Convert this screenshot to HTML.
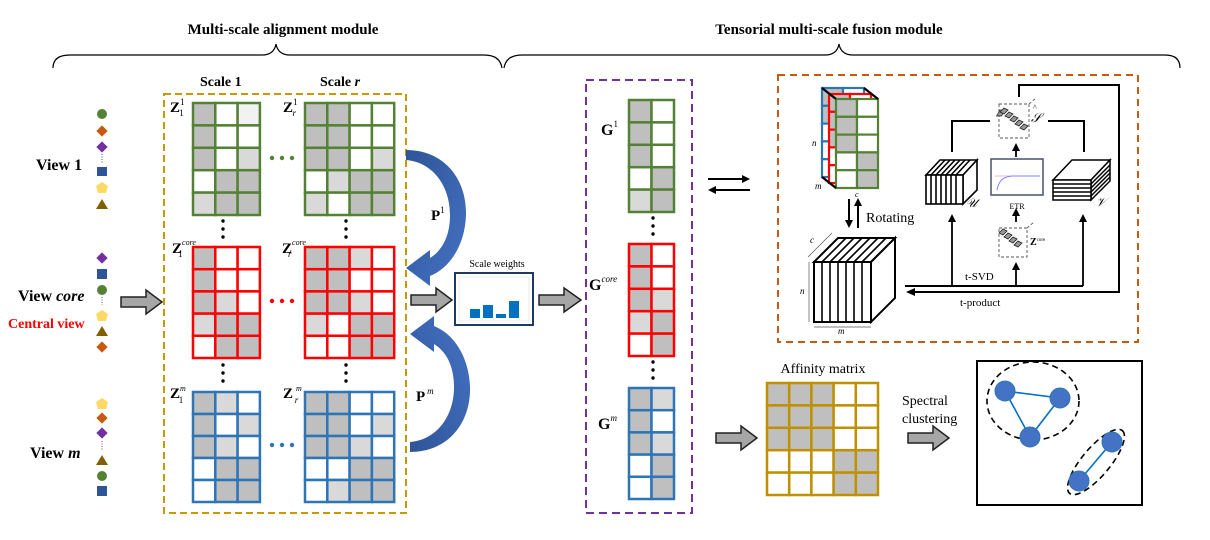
<!DOCTYPE html>
<html><head><meta charset="utf-8"><style>
html,body{margin:0;padding:0;background:#fff;}
svg{display:block;}
text{font-family:"Liberation Serif",serif;}
.g{fill:#bfbfbf}.l{fill:#d9d9d9}.w{fill:#fff}
</style></head><body>
<svg width="1210" height="540" viewBox="0 0 1210 540" xmlns="http://www.w3.org/2000/svg">
<defs>
<linearGradient id="bl" x1="0" y1="0" x2="1" y2="1"><stop offset="0" stop-color="#2f5597"/><stop offset="1" stop-color="#4472c4"/></linearGradient>
<marker id="ah" markerWidth="8" markerHeight="8" refX="6" refY="4" orient="auto" markerUnits="userSpaceOnUse"><path d="M0,0 L8,4 L0,8 Z" fill="#000"/></marker>
</defs>

<!-- titles & braces -->
<text x="283" y="34" font-size="15" font-weight="bold" text-anchor="middle">Multi-scale alignment module</text>
<text x="829" y="34" font-size="15" font-weight="bold" text-anchor="middle">Tensorial multi-scale fusion module</text>
<path d="M53,68 Q53,55 70,55 L262,55 Q274,55 276,44 Q278,55 290,55 L484,55 Q500,55 502,68" fill="none" stroke="#000" stroke-width="1.2"/>
<path d="M504,68 Q506,55 522,55 L825,55 Q837,55 839,44 Q841,55 853,55 L1165,55 Q1180,55 1180,68" fill="none" stroke="#000" stroke-width="1.2"/>

<!-- view labels -->
<text x="36" y="170" font-size="16" font-weight="bold">View 1</text>
<text x="18" y="301" font-size="16" font-weight="bold">View <tspan font-style="italic">core</tspan></text>
<text x="8" y="328" font-size="14" font-weight="bold" fill="#ff0000">Central view</text>
<text x="30" y="458" font-size="16" font-weight="bold">View <tspan font-style="italic">m</tspan></text>

<!-- symbols view1 -->
<g>
<circle cx="102" cy="114" r="5" fill="#548235"/>
<rect x="98" y="127" width="8" height="8" fill="#c55a11" transform="rotate(45 102 131)"/>
<rect x="98" y="143" width="8" height="8" fill="#7030a0" transform="rotate(45 102 147)"/>
<line x1="102" y1="154" x2="102" y2="164" stroke="#555" stroke-dasharray="1,1.5"/>
<rect x="97" y="167" width="10" height="9" fill="#2f5597"/>
<polygon points="102,182 108,186 106,193 98,193 96,186" fill="#ffd966"/>
<polygon points="102,199 108,209 96,209" fill="#7f6000"/>
</g>
<g>
<rect x="98" y="254" width="8" height="8" fill="#7030a0" transform="rotate(45 102 258)"/>
<rect x="97" y="269" width="10" height="10" fill="#2f5597"/>
<circle cx="102" cy="290" r="5" fill="#548235"/>
<line x1="102" y1="297" x2="102" y2="305" stroke="#555" stroke-dasharray="1,1.5"/>
<polygon points="102,310 108,314 106,321 98,321 96,314" fill="#ffd966"/>
<polygon points="102,326 108,336 96,336" fill="#7f6000"/>
<rect x="98" y="343" width="8" height="8" fill="#c55a11" transform="rotate(45 102 347)"/>
</g>
<g>
<polygon points="102,398 108,402 106,409 98,409 96,402" fill="#ffd966"/>
<rect x="98" y="414" width="8" height="8" fill="#c55a11" transform="rotate(45 102 418)"/>
<rect x="98" y="429" width="8" height="8" fill="#7030a0" transform="rotate(45 102 433)"/>
<line x1="102" y1="441" x2="102" y2="451" stroke="#555" stroke-dasharray="1,1.5"/>
<polygon points="102,455 108,465 96,465" fill="#7f6000"/>
<circle cx="102" cy="476" r="5" fill="#548235"/>
<rect x="97" y="486" width="10" height="10" fill="#2f5597"/>
</g>

<!-- gray arrows -->
<g fill="#a6a6a6" stroke="#222" stroke-width="1.5">
<path d="M121,297 L146,297 L146,290 L162,302 L146,314 L146,307 L121,307 Z"/>
<path d="M411,295 L436,295 L436,288 L452,300 L436,312 L436,305 L411,305 Z"/>
<path d="M539,295 L564,295 L564,288 L581,300 L564,312 L564,305 L539,305 Z"/>
<path d="M716,433 L741,433 L741,426 L757,438 L741,450 L741,443 L716,443 Z"/>
<path d="M908,433 L933,433 L933,426 L949,438 L933,450 L933,443 L908,443 Z"/>
</g>

<!-- yellow dashed box -->
<rect x="164" y="94" width="242" height="419" fill="none" stroke="#c99a00" stroke-width="2" stroke-dasharray="7,4"/>
<text x="200" y="86" font-size="14" font-weight="bold">Scale 1</text>
<text x="320" y="86" font-size="14" font-weight="bold">Scale <tspan font-style="italic">r</tspan></text>

<!-- Z labels -->
<g font-size="15" font-weight="bold">
<text x="170" y="112">Z<tspan font-size="9" font-weight="normal" dy="-7">1</tspan><tspan font-size="9" font-weight="normal" dx="-5" dy="11">1</tspan></text>
<text x="283" y="112">Z<tspan font-size="9" font-weight="normal" dy="-7">1</tspan><tspan font-size="9" font-weight="normal" font-style="italic" dx="-5" dy="11">r</tspan></text>
<text x="172" y="253">Z<tspan font-size="8" font-weight="normal" font-style="italic" dy="-8">core</tspan><tspan font-size="9" font-weight="normal" dx="-18" dy="12">1</tspan></text>
<text x="282" y="253">Z<tspan font-size="8" font-weight="normal" font-style="italic" dy="-8">core</tspan><tspan font-size="9" font-weight="normal" font-style="italic" dx="-18" dy="12">r</tspan></text>
<text x="170" y="398">Z<tspan font-size="8" font-weight="normal" font-style="italic" dy="-7">m</tspan><tspan font-size="9" font-weight="normal" dx="-7" dy="12">1</tspan></text>
<text x="283" y="398">Z<tspan font-size="8" font-weight="normal" font-style="italic" dx="3" dy="-7">m</tspan><tspan font-size="9" font-weight="normal" font-style="italic" dx="-7" dy="12">r</tspan></text>
</g>

<!-- Z1^1 -->
<g stroke="#548235" stroke-width="2.5" transform="translate(193,103)">
<rect class="g" x="0" y="0" width="22.3" height="22.4"/><rect class="w" x="22.3" y="0" width="22.3" height="22.4"/><rect fill="#f2f2f2" x="44.6" y="0" width="22.3" height="22.4"/>
<rect class="g" x="0" y="22.4" width="22.3" height="22.4"/><rect class="w" x="22.3" y="22.4" width="22.3" height="22.4"/><rect class="w" x="44.6" y="22.4" width="22.3" height="22.4"/>
<rect class="g" x="0" y="44.8" width="22.3" height="22.4"/><rect class="w" x="22.3" y="44.8" width="22.3" height="22.4"/><rect class="l" x="44.6" y="44.8" width="22.3" height="22.4"/>
<rect class="w" x="0" y="67.2" width="22.3" height="22.4"/><rect class="g" x="22.3" y="67.2" width="22.3" height="22.4"/><rect class="g" x="44.6" y="67.2" width="22.3" height="22.4"/>
<rect class="l" x="0" y="89.6" width="22.3" height="22.4"/><rect class="g" x="22.3" y="89.6" width="22.3" height="22.4"/><rect class="g" x="44.6" y="89.6" width="22.3" height="22.4"/>
</g>
<!-- Zr^1 -->
<g stroke="#548235" stroke-width="2.5" transform="translate(305,103)">
<rect class="g" x="0" y="0" width="22.3" height="22.4"/><rect class="g" x="22.3" y="0" width="22.3" height="22.4"/><rect class="w" x="44.6" y="0" width="22.3" height="22.4"/><rect class="w" x="66.9" y="0" width="22.3" height="22.4"/>
<rect class="g" x="0" y="22.4" width="22.3" height="22.4"/><rect class="g" x="22.3" y="22.4" width="22.3" height="22.4"/><rect class="w" x="44.6" y="22.4" width="22.3" height="22.4"/><rect class="w" x="66.9" y="22.4" width="22.3" height="22.4"/>
<rect class="g" x="0" y="44.8" width="22.3" height="22.4"/><rect class="g" x="22.3" y="44.8" width="22.3" height="22.4"/><rect class="w" x="44.6" y="44.8" width="22.3" height="22.4"/><rect class="l" x="66.9" y="44.8" width="22.3" height="22.4"/>
<rect class="w" x="0" y="67.2" width="22.3" height="22.4"/><rect class="l" x="22.3" y="67.2" width="22.3" height="22.4"/><rect class="g" x="44.6" y="67.2" width="22.3" height="22.4"/><rect class="g" x="66.9" y="67.2" width="22.3" height="22.4"/>
<rect class="l" x="0" y="89.6" width="22.3" height="22.4"/><rect class="w" x="22.3" y="89.6" width="22.3" height="22.4"/><rect class="g" x="44.6" y="89.6" width="22.3" height="22.4"/><rect class="g" x="66.9" y="89.6" width="22.3" height="22.4"/>
</g>
<!-- Z1^core -->
<g stroke="#ff0000" stroke-width="2.5" transform="translate(193,247)">
<rect class="g" x="0" y="0" width="22.3" height="22.2"/><rect class="w" x="22.3" y="0" width="22.3" height="22.2"/><rect class="w" x="44.6" y="0" width="22.3" height="22.2"/>
<rect class="g" x="0" y="22.2" width="22.3" height="22.2"/><rect class="w" x="22.3" y="22.2" width="22.3" height="22.2"/><rect class="w" x="44.6" y="22.2" width="22.3" height="22.2"/>
<rect class="g" x="0" y="44.4" width="22.3" height="22.2"/><rect class="l" x="22.3" y="44.4" width="22.3" height="22.2"/><rect class="w" x="44.6" y="44.4" width="22.3" height="22.2"/>
<rect class="l" x="0" y="66.6" width="22.3" height="22.2"/><rect class="g" x="22.3" y="66.6" width="22.3" height="22.2"/><rect class="g" x="44.6" y="66.6" width="22.3" height="22.2"/>
<rect class="w" x="0" y="88.8" width="22.3" height="22.2"/><rect class="g" x="22.3" y="88.8" width="22.3" height="22.2"/><rect class="g" x="44.6" y="88.8" width="22.3" height="22.2"/>
</g>
<!-- Zr^core -->
<g stroke="#ff0000" stroke-width="2.5" transform="translate(305,247)">
<rect class="g" x="0" y="0" width="22.3" height="22.2"/><rect class="g" x="22.3" y="0" width="22.3" height="22.2"/><rect class="l" x="44.6" y="0" width="22.3" height="22.2"/><rect class="w" x="66.9" y="0" width="22.3" height="22.2"/>
<rect class="g" x="0" y="22.2" width="22.3" height="22.2"/><rect class="g" x="22.3" y="22.2" width="22.3" height="22.2"/><rect class="w" x="44.6" y="22.2" width="22.3" height="22.2"/><rect class="w" x="66.9" y="22.2" width="22.3" height="22.2"/>
<rect class="g" x="0" y="44.4" width="22.3" height="22.2"/><rect class="g" x="22.3" y="44.4" width="22.3" height="22.2"/><rect class="l" x="44.6" y="44.4" width="22.3" height="22.2"/><rect class="w" x="66.9" y="44.4" width="22.3" height="22.2"/>
<rect class="l" x="0" y="66.6" width="22.3" height="22.2"/><rect class="w" x="22.3" y="66.6" width="22.3" height="22.2"/><rect class="g" x="44.6" y="66.6" width="22.3" height="22.2"/><rect class="g" x="66.9" y="66.6" width="22.3" height="22.2"/>
<rect class="w" x="0" y="88.8" width="22.3" height="22.2"/><rect class="w" x="22.3" y="88.8" width="22.3" height="22.2"/><rect class="g" x="44.6" y="88.8" width="22.3" height="22.2"/><rect class="g" x="66.9" y="88.8" width="22.3" height="22.2"/>
</g>
<!-- Z1^m -->
<g stroke="#2e75b6" stroke-width="2.5" transform="translate(193,392)">
<rect class="g" x="0" y="0" width="22.3" height="22"/><rect class="l" x="22.3" y="0" width="22.3" height="22"/><rect class="w" x="44.6" y="0" width="22.3" height="22"/>
<rect class="g" x="0" y="22" width="22.3" height="22"/><rect class="w" x="22.3" y="22" width="22.3" height="22"/><rect class="l" x="44.6" y="22" width="22.3" height="22"/>
<rect class="g" x="0" y="44" width="22.3" height="22"/><rect class="l" x="22.3" y="44" width="22.3" height="22"/><rect class="w" x="44.6" y="44" width="22.3" height="22"/>
<rect class="w" x="0" y="66" width="22.3" height="22"/><rect class="g" x="22.3" y="66" width="22.3" height="22"/><rect class="g" x="44.6" y="66" width="22.3" height="22"/>
<rect class="w" x="0" y="88" width="22.3" height="22"/><rect class="g" x="22.3" y="88" width="22.3" height="22"/><rect class="g" x="44.6" y="88" width="22.3" height="22"/>
</g>
<!-- Zr^m -->
<g stroke="#2e75b6" stroke-width="2.5" transform="translate(305,392)">
<rect class="g" x="0" y="0" width="22.3" height="22"/><rect class="g" x="22.3" y="0" width="22.3" height="22"/><rect class="w" x="44.6" y="0" width="22.3" height="22"/><rect class="w" x="66.9" y="0" width="22.3" height="22"/>
<rect class="g" x="0" y="22" width="22.3" height="22"/><rect class="g" x="22.3" y="22" width="22.3" height="22"/><rect class="w" x="44.6" y="22" width="22.3" height="22"/><rect class="l" x="66.9" y="22" width="22.3" height="22"/>
<rect class="g" x="0" y="44" width="22.3" height="22"/><rect class="g" x="22.3" y="44" width="22.3" height="22"/><rect class="l" x="44.6" y="44" width="22.3" height="22"/><rect class="w" x="66.9" y="44" width="22.3" height="22"/>
<rect class="w" x="0" y="66" width="22.3" height="22"/><rect class="w" x="22.3" y="66" width="22.3" height="22"/><rect class="g" x="44.6" y="66" width="22.3" height="22"/><rect class="g" x="66.9" y="66" width="22.3" height="22"/>
<rect class="w" x="0" y="88" width="22.3" height="22"/><rect class="l" x="22.3" y="88" width="22.3" height="22"/><rect class="g" x="44.6" y="88" width="22.3" height="22"/><rect class="g" x="66.9" y="88" width="22.3" height="22"/>
</g>

<!-- dots -->
<g fill="#548235"><circle cx="272" cy="158" r="2.2"/><circle cx="282" cy="158" r="2.2"/><circle cx="292" cy="158" r="2.2"/></g>
<g fill="#ff0000"><circle cx="272" cy="301" r="2.2"/><circle cx="282" cy="301" r="2.2"/><circle cx="292" cy="301" r="2.2"/></g>
<g fill="#2e75b6"><circle cx="272" cy="445" r="2.2"/><circle cx="282" cy="445" r="2.2"/><circle cx="292" cy="445" r="2.2"/></g>
<g fill="#000">
<circle cx="223" cy="221" r="1.7"/><circle cx="223" cy="229" r="1.7"/><circle cx="223" cy="237" r="1.7"/>
<circle cx="346" cy="221" r="1.7"/><circle cx="346" cy="229" r="1.7"/><circle cx="346" cy="237" r="1.7"/>
<circle cx="223" cy="365" r="1.7"/><circle cx="223" cy="373" r="1.7"/><circle cx="223" cy="381" r="1.7"/>
<circle cx="346" cy="365" r="1.7"/><circle cx="346" cy="373" r="1.7"/><circle cx="346" cy="381" r="1.7"/>
<circle cx="653" cy="218" r="1.7"/><circle cx="653" cy="226" r="1.7"/><circle cx="653" cy="234" r="1.7"/>
<circle cx="653" cy="362" r="1.7"/><circle cx="653" cy="370" r="1.7"/><circle cx="653" cy="378" r="1.7"/>
</g>

<!-- curved blue arrows -->
<path d="M406,150 C445,150 467,180 466,215 C465,245 450,268 430,276 L430,286 L406,268 L430,250 L430,258 C443,250 450,235 450,215 C450,185 432,162 406,160 Z" fill="url(#bl)"/>
<path transform="translate(4,602) scale(1,-1)" d="M406,150 C445,150 467,180 466,215 C465,245 450,268 430,276 L430,286 L406,268 L430,250 L430,258 C443,250 450,235 450,215 C450,185 432,162 406,160 Z" fill="url(#bl)"/>
<text x="431" y="220" font-size="15" font-weight="bold">P<tspan font-size="9" font-weight="normal" dy="-7">1</tspan></text>
<text x="416" y="401" font-size="15" font-weight="bold">P<tspan font-size="9" font-weight="normal" font-style="italic" dx="2" dy="-7">m</tspan></text>

<!-- scale weights -->
<text x="497" y="267" font-size="10" text-anchor="middle">Scale weights</text>
<rect x="455" y="273" width="78" height="52" fill="#fff" stroke="#1f3864" stroke-width="2"/>
<rect x="459" y="277" width="70" height="44" fill="none" stroke="#ddd" stroke-width="0.6"/>
<rect x="470" y="309" width="10" height="9" fill="#0070c0"/>
<rect x="483" y="305" width="10" height="13" fill="#0070c0"/>
<rect x="496" y="314" width="10" height="4" fill="#0070c0"/>
<rect x="509" y="301" width="10" height="17" fill="#0070c0"/>

<!-- purple box -->
<rect x="586" y="80" width="106" height="433" fill="none" stroke="#7030a0" stroke-width="2" stroke-dasharray="8,5"/>
<g font-size="16" font-weight="bold">
<text x="601" y="135">G<tspan font-size="9" font-weight="normal" dy="-8">1</tspan></text>
<text x="589" y="290">G<tspan font-size="9" font-weight="normal" font-style="italic" dy="-8">core</tspan></text>
<text x="598" y="429">G<tspan font-size="9" font-weight="normal" font-style="italic" dy="-8">m</tspan></text>
</g>
<g stroke="#548235" stroke-width="2.5" transform="translate(629,100)">
<rect class="g" x="0" y="0" width="22.5" height="22.4"/><rect class="w" x="22.5" y="0" width="22.5" height="22.4"/>
<rect class="g" x="0" y="22.4" width="22.5" height="22.4"/><rect class="w" x="22.5" y="22.4" width="22.5" height="22.4"/>
<rect class="g" x="0" y="44.8" width="22.5" height="22.4"/><rect class="w" x="22.5" y="44.8" width="22.5" height="22.4"/>
<rect class="w" x="0" y="67.2" width="22.5" height="22.4"/><rect class="g" x="22.5" y="67.2" width="22.5" height="22.4"/>
<rect class="l" x="0" y="89.6" width="22.5" height="22.4"/><rect class="g" x="22.5" y="89.6" width="22.5" height="22.4"/>
</g>
<g stroke="#ff0000" stroke-width="2.5" transform="translate(629,244)">
<rect class="g" x="0" y="0" width="22.5" height="22.4"/><rect class="w" x="22.5" y="0" width="22.5" height="22.4"/>
<rect class="g" x="0" y="22.4" width="22.5" height="22.4"/><rect class="w" x="22.5" y="22.4" width="22.5" height="22.4"/>
<rect class="g" x="0" y="44.8" width="22.5" height="22.4"/><rect class="l" x="22.5" y="44.8" width="22.5" height="22.4"/>
<rect class="l" x="0" y="67.2" width="22.5" height="22.4"/><rect class="g" x="22.5" y="67.2" width="22.5" height="22.4"/>
<rect class="w" x="0" y="89.6" width="22.5" height="22.4"/><rect class="g" x="22.5" y="89.6" width="22.5" height="22.4"/>
</g>
<g stroke="#2e75b6" stroke-width="2.5" transform="translate(629,388)">
<rect class="g" x="0" y="0" width="22.5" height="22.2"/><rect class="l" x="22.5" y="0" width="22.5" height="22.2"/>
<rect class="g" x="0" y="22.2" width="22.5" height="22.2"/><rect class="w" x="22.5" y="22.2" width="22.5" height="22.2"/>
<rect class="g" x="0" y="44.4" width="22.5" height="22.2"/><rect class="l" x="22.5" y="44.4" width="22.5" height="22.2"/>
<rect class="w" x="0" y="66.6" width="22.5" height="22.2"/><rect class="g" x="22.5" y="66.6" width="22.5" height="22.2"/>
<rect class="w" x="0" y="88.8" width="22.5" height="22.2"/><rect class="g" x="22.5" y="88.8" width="22.5" height="22.2"/>
</g>

<!-- double arrows between modules -->
<line x1="708" y1="179" x2="748" y2="179" stroke="#000" stroke-width="2" marker-end="url(#ah)"/>
<line x1="750" y1="190" x2="710" y2="190" stroke="#000" stroke-width="2" marker-end="url(#ah)"/>

<!-- orange box -->
<rect x="778" y="75" width="360" height="267" fill="none" stroke="#c55a11" stroke-width="2" stroke-dasharray="7,5"/>

<!-- 3D stack -->
<g stroke-width="2.2">
<g stroke="#2e75b6" transform="translate(822,88)">
<rect class="g" x="0" y="0" width="21" height="17.8"/><rect class="w" x="21" y="0" width="21" height="17.8"/>
<rect class="g" x="0" y="17.8" width="21" height="17.8"/><rect class="w" x="0" y="35.6" width="21" height="17.8"/>
<rect class="w" x="0" y="53.4" width="21" height="17.8"/><rect class="w" x="0" y="71.2" width="21" height="17.8"/>
</g>
<g stroke="#ff0000" transform="translate(829,94)">
<rect class="g" x="0" y="0" width="21" height="17.8"/><rect class="w" x="21" y="0" width="21" height="17.8"/>
<rect class="g" x="0" y="17.8" width="21" height="17.8"/><rect class="g" x="0" y="35.6" width="21" height="17.8"/>
<rect class="w" x="0" y="53.4" width="21" height="17.8"/><rect class="w" x="0" y="71.2" width="21" height="17.8"/>
</g>
<g stroke="#548235" transform="translate(836,99)">
<rect class="g" x="0" y="0" width="21" height="17.8"/><rect class="w" x="21" y="0" width="21" height="17.8"/>
<rect class="g" x="0" y="17.8" width="21" height="17.8"/><rect class="w" x="21" y="17.8" width="21" height="17.8"/>
<rect class="g" x="0" y="35.6" width="21" height="17.8"/><rect class="w" x="21" y="35.6" width="21" height="17.8"/>
<rect class="w" x="0" y="53.4" width="21" height="17.8"/><rect class="g" x="21" y="53.4" width="21" height="17.8"/>
<rect class="w" x="0" y="71.2" width="21" height="17.8"/><rect class="g" x="21" y="71.2" width="21" height="17.8"/>
</g>
<line x1="822" y1="88" x2="836" y2="99" stroke="#000"/>
<line x1="864" y1="88" x2="878" y2="99" stroke="#000"/>
<line x1="822" y1="177" x2="836" y2="188" stroke="#000"/>
</g>
<text x="812" y="146" font-size="9" font-style="italic">n</text>
<text x="815" y="189" font-size="9" font-style="italic">m</text>
<text x="855" y="197" font-size="8" font-style="italic">c</text>

<!-- rotating arrows -->
<line x1="849" y1="199" x2="849" y2="226" stroke="#000" stroke-width="2" marker-end="url(#ah)"/>
<line x1="858" y1="228" x2="858" y2="200" stroke="#000" stroke-width="2" marker-end="url(#ah)"/>
<text x="866" y="222" font-size="14">Rotating</text>

<!-- big cube -->
<g stroke="#000" fill="#fff">
<polygon points="814,262 838,238 895,238 871,262" stroke-width="2"/>
<polygon points="871,262 895,238 895,298 871,322" stroke-width="2"/>
<rect x="814" y="262" width="57" height="60" stroke-width="2"/>
</g>
<g stroke="#000" stroke-width="1.6">
<line x1="822" y1="262" x2="822" y2="322"/><line x1="830" y1="262" x2="830" y2="322"/><line x1="838" y1="262" x2="838" y2="322"/>
<line x1="846" y1="262" x2="846" y2="322"/><line x1="854" y1="262" x2="854" y2="322"/><line x1="862" y1="262" x2="862" y2="322"/>
<line x1="822" y1="262" x2="846" y2="238"/><line x1="830" y1="262" x2="854" y2="238"/><line x1="838" y1="262" x2="862" y2="238"/>
<line x1="846" y1="262" x2="870" y2="238"/><line x1="854" y1="262" x2="878" y2="238"/><line x1="862" y1="262" x2="886" y2="238"/>
</g>
<g stroke="#555" stroke-width="0.7">
<line x1="809" y1="262" x2="809" y2="322"/><line x1="814" y1="327" x2="871" y2="327"/><line x1="808" y1="257" x2="832" y2="233"/>
</g>
<text x="810" y="243" font-size="9" font-style="italic">c</text>
<text x="800" y="294" font-size="9" font-style="italic">n</text>
<text x="838" y="334" font-size="9" font-style="italic">m</text>

<!-- U cube -->
<g stroke="#000" fill="#fff" stroke-width="1.6">
<polygon points="926,175 940,160 977,160 963,175"/>
<polygon points="963,175 977,160 977,190 963,204"/>
<rect x="926" y="175" width="37" height="29"/>
<line x1="931" y1="175" x2="931" y2="204"/><line x1="936" y1="175" x2="936" y2="204"/><line x1="941" y1="175" x2="941" y2="204"/>
<line x1="946" y1="175" x2="946" y2="204"/><line x1="951" y1="175" x2="951" y2="204"/><line x1="956" y1="175" x2="956" y2="204"/>
<line x1="931" y1="175" x2="945" y2="160"/><line x1="936" y1="175" x2="950" y2="160"/><line x1="941" y1="175" x2="955" y2="160"/>
<line x1="946" y1="175" x2="960" y2="160"/><line x1="951" y1="175" x2="965" y2="160"/><line x1="956" y1="175" x2="970" y2="160"/>
</g>
<text x="966" y="207" font-size="12" font-style="italic">𝒰</text>

<!-- ETR -->
<rect x="991" y="159" width="52" height="36" fill="#fff" stroke="#44546a" stroke-width="1.5"/>
<line x1="995" y1="176" x2="1040" y2="176" stroke="#f4b6b6" stroke-width="1"/>
<path d="M997,190 C999,180 1003,177 1012,176 L1040,176" fill="none" stroke="#8080ff" stroke-width="1"/>
<text x="1017" y="209" font-size="8" text-anchor="middle">ETR</text>

<!-- V stack -->
<g stroke="#000" fill="#fff" stroke-width="1.5">
<polygon points="1053,180 1072,160 1110,160 1091,180"/>
<polygon points="1091,180 1110,160 1110,181 1091,200"/>
<rect x="1053" y="180" width="38" height="20"/>
<line x1="1053" y1="184" x2="1091" y2="184"/><line x1="1053" y1="188" x2="1091" y2="188"/><line x1="1053" y1="192" x2="1091" y2="192"/><line x1="1053" y1="196" x2="1091" y2="196"/>
<line x1="1091" y1="184" x2="1110" y2="165"/><line x1="1091" y1="188" x2="1110" y2="169"/><line x1="1091" y1="192" x2="1110" y2="173"/><line x1="1091" y1="196" x2="1110" y2="177"/>
</g>
<text x="1096" y="206" font-size="12" font-style="italic">𝒱</text>

<!-- S hat -->
<rect x="999" y="104" width="30" height="34" fill="none" stroke="#555" stroke-width="0.9" stroke-dasharray="3,2"/>
<line x1="1029" y1="104" x2="1036" y2="98" stroke="#555" stroke-width="0.9" stroke-dasharray="3,2"/>
<g fill="#999" stroke="#222" stroke-width="0.8">
<rect x="1000" y="110" width="5" height="6" transform="skewX(-30)" style="transform-box:fill-box"/>
<polygon points="1000,112 1004,108 1008,110 1004,114"/><polygon points="1005,116 1009,112 1013,114 1009,118"/>
<polygon points="1010,120 1014,116 1018,118 1014,122"/><polygon points="1015,124 1019,120 1023,122 1019,126"/>
<polygon points="1020,128 1024,124 1028,126 1024,130"/>
</g>
<text x="1031" y="122" font-size="13" font-style="italic">𝒮</text>
<text x="1033" y="110" font-size="8">^</text>

<!-- Z tensor small -->
<rect x="999" y="228" width="28" height="29" fill="none" stroke="#555" stroke-width="0.9" stroke-dasharray="3,2"/>
<line x1="1027" y1="228" x2="1034" y2="222" stroke="#555" stroke-width="0.9" stroke-dasharray="3,2"/>
<g fill="#999" stroke="#222" stroke-width="0.8">
<polygon points="999,233 1003,229 1007,231 1003,235"/><polygon points="1004,237 1008,233 1012,235 1008,239"/>
<polygon points="1009,241 1013,237 1017,239 1013,243"/><polygon points="1014,245 1018,241 1022,243 1018,247"/>
</g>
<text x="1030" y="245" font-size="10" font-weight="bold">Z<tspan font-size="5" font-weight="normal" dy="-4">core</tspan></text>

<!-- connectors -->
<g fill="none" stroke="#000" stroke-width="2">
<polyline points="952,152 952,121 990,121"/>
<polyline points="1048,121 1084,121 1084,152"/>
<polyline points="1019,97 1019,85 1119,85 1119,292 914,292"/>
<line x1="905" y1="286" x2="1083" y2="286"/>
</g>
<g stroke="#000" stroke-width="1.8">
<line x1="952" y1="286" x2="952" y2="216" marker-end="url(#ah)"/>
<line x1="1083" y1="286" x2="1083" y2="216" marker-end="url(#ah)"/>
<line x1="1016" y1="286" x2="1016" y2="264" marker-end="url(#ah)"/>
<line x1="1016" y1="222" x2="1016" y2="210" marker-end="url(#ah)"/>
<line x1="1016" y1="157" x2="1016" y2="145" marker-end="url(#ah)"/>
</g>
<path d="M906,292 L915,288 L915,296 Z" fill="#000"/>
<text x="965" y="280" font-size="11">t-SVD</text>
<text x="960" y="306" font-size="11">t-product</text>

<!-- affinity -->
<text x="823" y="373" font-size="14" text-anchor="middle">Affinity matrix</text>
<g stroke="#bf9000" stroke-width="2.5" transform="translate(767,383)">
<rect class="g" x="0" y="0" width="22.2" height="22.4"/><rect class="g" x="22.2" y="0" width="22.2" height="22.4"/><rect class="g" x="44.4" y="0" width="22.2" height="22.4"/><rect class="w" x="66.6" y="0" width="22.2" height="22.4"/><rect class="w" x="88.8" y="0" width="22.2" height="22.4"/>
<rect class="g" x="0" y="22.4" width="22.2" height="22.4"/><rect class="g" x="22.2" y="22.4" width="22.2" height="22.4"/><rect class="g" x="44.4" y="22.4" width="22.2" height="22.4"/><rect class="w" x="66.6" y="22.4" width="22.2" height="22.4"/><rect class="w" x="88.8" y="22.4" width="22.2" height="22.4"/>
<rect class="g" x="0" y="44.8" width="22.2" height="22.4"/><rect class="g" x="22.2" y="44.8" width="22.2" height="22.4"/><rect class="g" x="44.4" y="44.8" width="22.2" height="22.4"/><rect class="w" x="66.6" y="44.8" width="22.2" height="22.4"/><rect class="w" x="88.8" y="44.8" width="22.2" height="22.4"/>
<rect class="w" x="0" y="67.2" width="22.2" height="22.4"/><rect class="w" x="22.2" y="67.2" width="22.2" height="22.4"/><rect class="w" x="44.4" y="67.2" width="22.2" height="22.4"/><rect class="g" x="66.6" y="67.2" width="22.2" height="22.4"/><rect class="g" x="88.8" y="67.2" width="22.2" height="22.4"/>
<rect class="w" x="0" y="89.6" width="22.2" height="22.4"/><rect class="w" x="22.2" y="89.6" width="22.2" height="22.4"/><rect class="w" x="44.4" y="89.6" width="22.2" height="22.4"/><rect class="g" x="66.6" y="89.6" width="22.2" height="22.4"/><rect class="g" x="88.8" y="89.6" width="22.2" height="22.4"/>
</g>
<text x="902" y="405" font-size="14">Spectral</text>
<text x="902" y="423" font-size="14">clustering</text>

<!-- cluster box -->
<rect x="977" y="361" width="165" height="144" fill="#fff" stroke="#000" stroke-width="2"/>
<ellipse cx="1033" cy="401" rx="46" ry="39" fill="none" stroke="#000" stroke-width="1.6" stroke-dasharray="6,4"/>
<ellipse cx="1096" cy="462" rx="41" ry="14" transform="rotate(-50 1096 462)" fill="none" stroke="#000" stroke-width="1.6" stroke-dasharray="6,4"/>
<g stroke="#0070c0" stroke-width="1.6">
<line x1="1005" y1="391" x2="1060" y2="398"/><line x1="1005" y1="391" x2="1030" y2="437"/><line x1="1060" y1="398" x2="1030" y2="437"/>
<line x1="1112" y1="442" x2="1079" y2="481"/>
</g>
<g fill="#4472c4" stroke="#2e75b6" stroke-width="1">
<circle cx="1005" cy="391" r="10"/><circle cx="1060" cy="398" r="10"/><circle cx="1030" cy="437" r="10"/>
<circle cx="1112" cy="442" r="10"/><circle cx="1079" cy="481" r="10"/>
</g>
</svg>
</body></html>
